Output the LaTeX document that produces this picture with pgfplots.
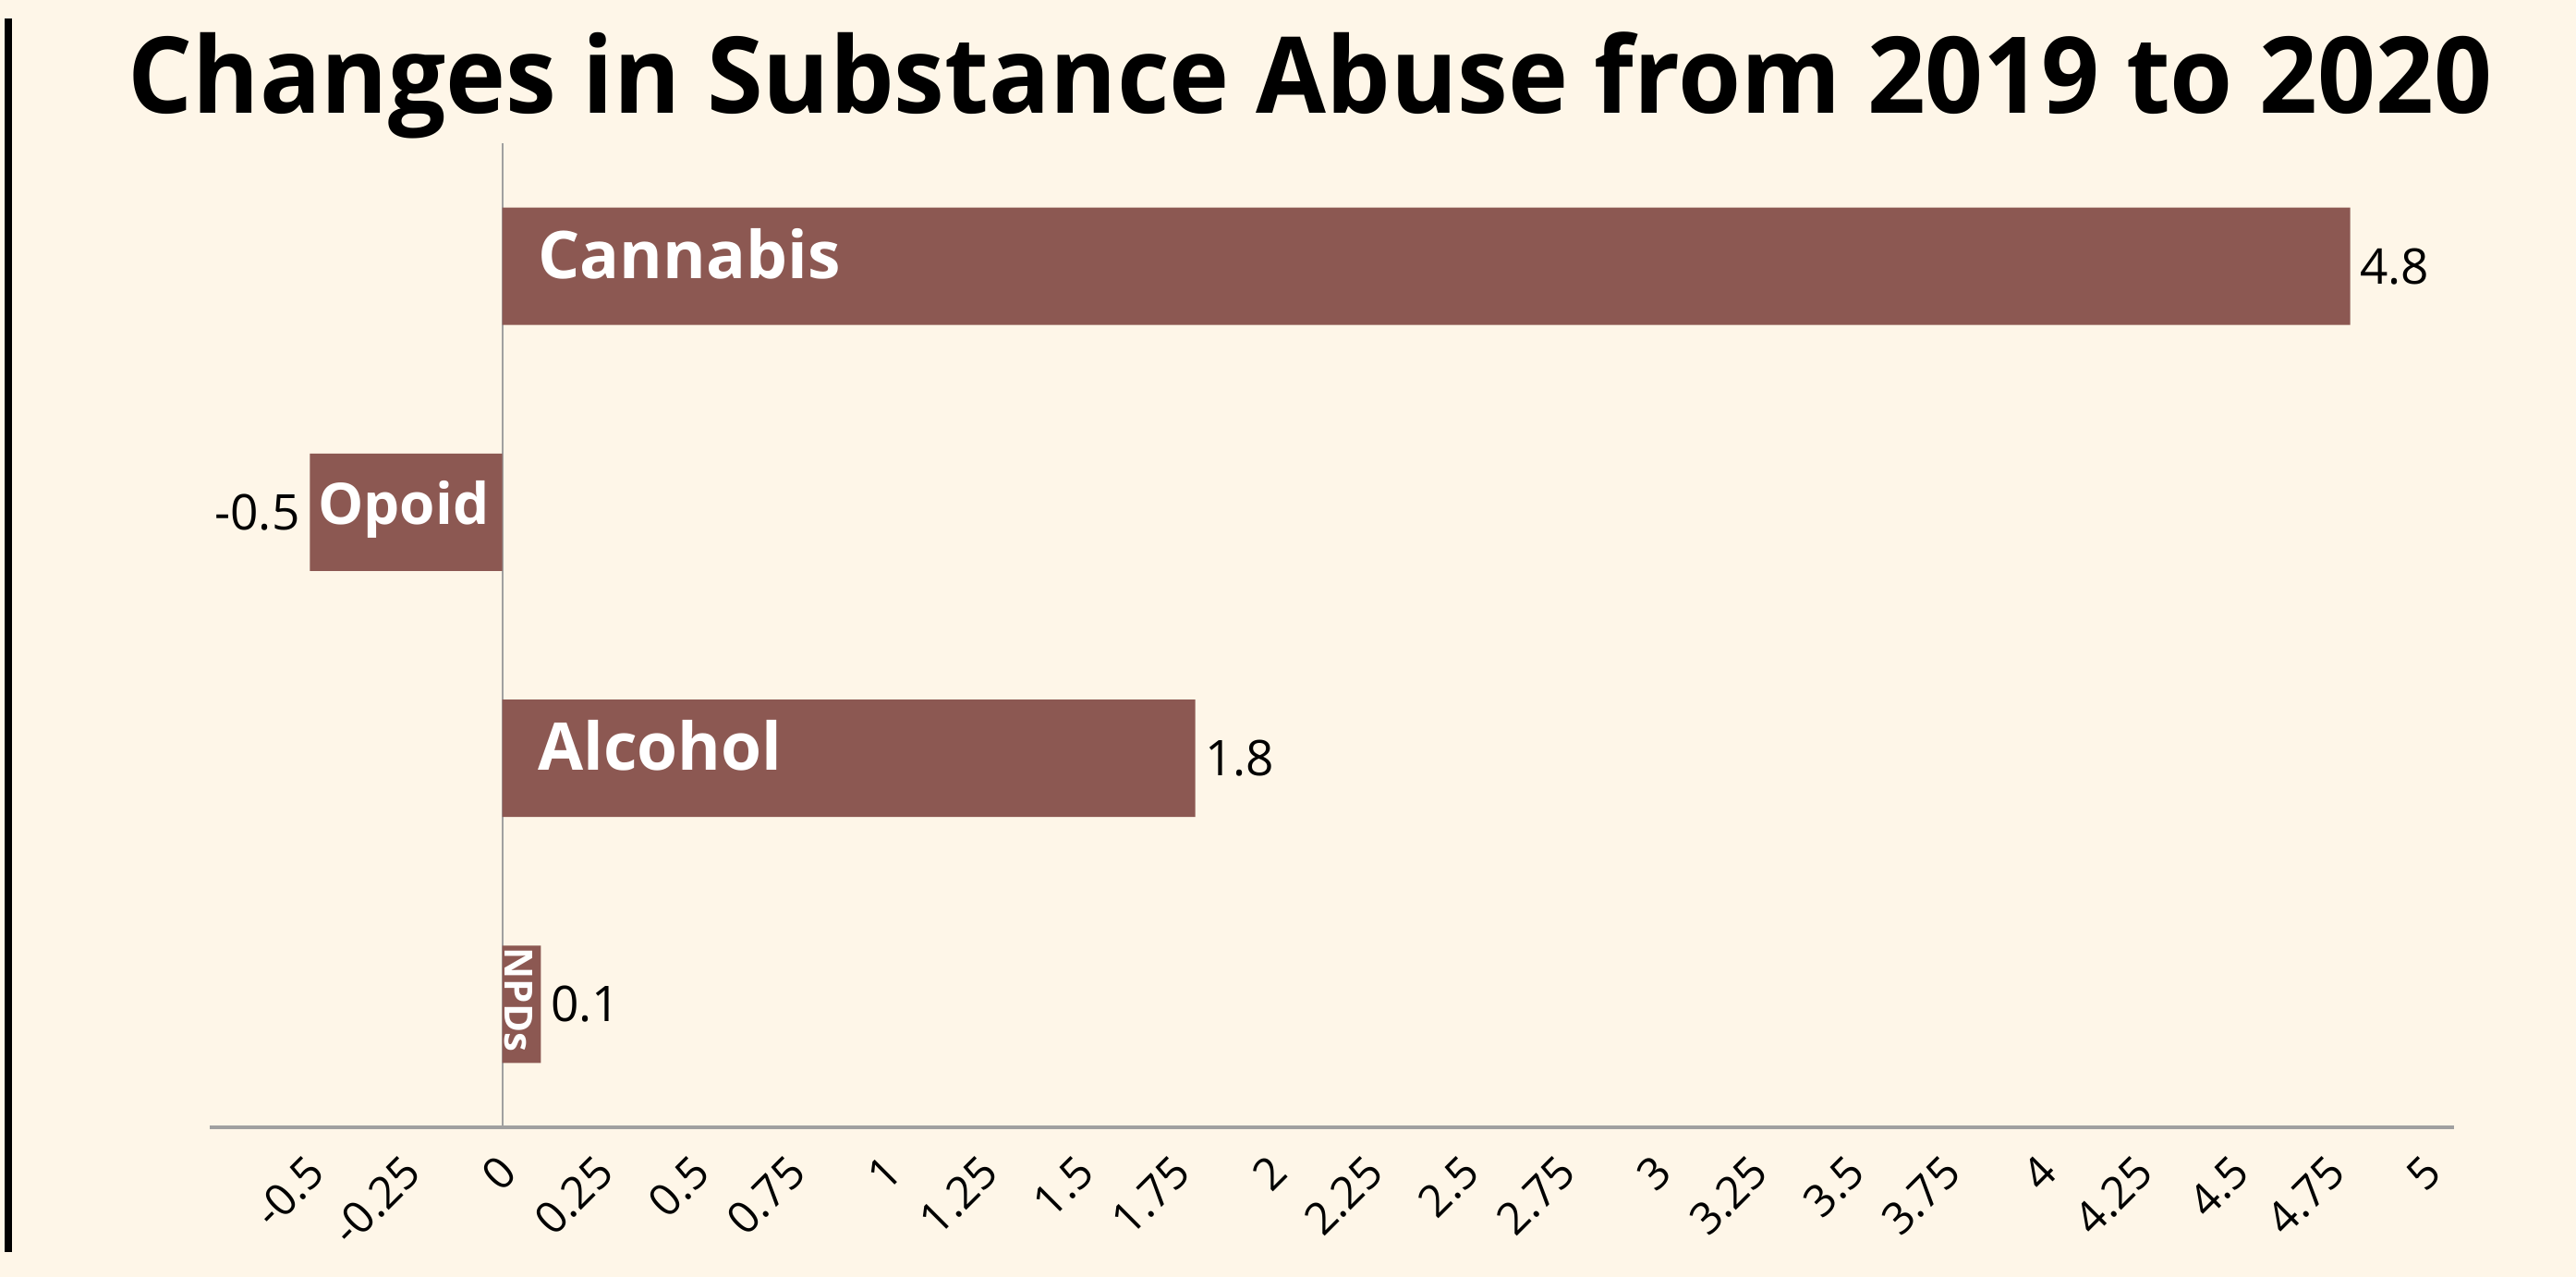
\documentclass[border=0pt]{standalone}
\usepackage{pgfplots}
\pgfplotsset{compat=1.18}
\usepackage{fontspec}
\setmainfont{Open Sans}
\definecolor{bg}{HTML}{FEF6E8}
\definecolor{barc}{HTML}{8C5852}
\definecolor{axc}{HTML}{A0A0A0}
\begin{document}
\begin{tikzpicture}[x=1pt,y=1pt]
\fill[bg] (0,0) rectangle (697,345.5);
\draw[black, line width=2.2pt] (2.25,340.5) -- (2.25,6.75);
\node[anchor=base, inner sep=0pt, font=\bfseries\fontsize{28.7}{30}\selectfont] at (354.5,314.8) {\scalebox{0.959}[1]{Changes in Substance Abuse from 2019 to 2020}};
\begin{axis}[
  at={(56.75pt,40.5pt)}, anchor=south west,
  scale only axis, width=607.25pt, height=266.25pt,
  xmin=-0.76, xmax=5.07, ymin=-0.5, ymax=3.5,
  axis x line=bottom, axis y line=none,
  x axis line style={axc, line width=0.8pt, -},
  xtick={-0.5,-0.25,0,0.25,0.5,0.75,1,1.25,1.5,1.75,2,2.25,2.5,2.75,3,3.25,3.5,3.75,4,4.25,4.5,4.75,5},
  xticklabels={-0.5,-0.25,0,0.25,0.5,0.75,1,1.25,1.5,1.75,2,2.25,2.5,2.75,3,3.25,3.5,3.75,4,4.25,4.5,4.75,5},
  major tick length=0pt,
  xticklabel shift=2pt,
  x tick label style={xshift=-1.5pt, rotate=45, anchor=north east, font=\fontsize{12}{14}\selectfont},
  extra x ticks={0}, extra x tick labels={},
  extra x tick style={grid=major, major grid style={axc, line width=0.5pt}},
  clip=false,
]
\addplot[xbar, fill=barc, draw=none, bar width=31.75pt,
  nodes near coords, nodes near coords align=horizontal,
  every node near coord/.append style={font=\fontsize{13.3}{15}\selectfont, text=black, inner sep=2.5pt, /pgf/number format/assume math mode=true}]
  coordinates {(4.8,3) (-0.5,2) (1.8,1) (0.1,0)};
\path (axis cs:0,3) ++(9.5pt,-3.25pt) node[anchor=base west, inner sep=0pt, text=white, font=\bfseries\fontsize{17.8}{20}\selectfont] {Cannabis};
\path (axis cs:-0.5,2) ++(2pt,-3.25pt) node[anchor=base west, inner sep=0pt, text=white, font=\bfseries\fontsize{15.5}{18}\selectfont] {Opoid};
\path (axis cs:0,1) ++(9.5pt,-3.25pt) node[anchor=base west, inner sep=0pt, text=white, font=\bfseries\fontsize{17.8}{20}\selectfont] {Alcohol};
\path (axis cs:0,0) ++(0.75pt,15.5pt) node[anchor=base west, rotate=-90, inner sep=0pt, text=white, font=\bfseries\fontsize{10.5}{12}\selectfont] {NPDs};
\end{axis}
\end{tikzpicture}
\end{document}
